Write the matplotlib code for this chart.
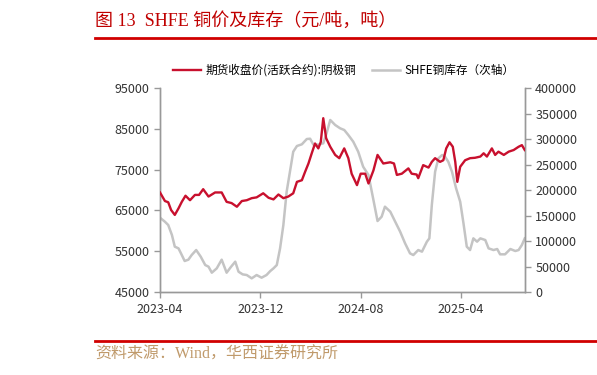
import matplotlib
matplotlib.use("Agg")
import matplotlib.pyplot as plt
import numpy as np
import pandas as pd

plt.rcParams['font.family'] = ['Noto Sans CJK SC', 'DejaVu Sans']

# days since 2023-04-01
price_day = [0, 12, 20, 27, 36, 45, 53, 62, 73, 85, 95, 105, 118, 134, 150, 162, 174,
             187, 199, 211, 223, 235, 251, 264, 276, 288, 300, 312, 324, 333, 345, 353,
             361, 369, 377, 385, 391, 397, 404, 414, 426, 436, 448, 458, 466, 479, 488,
             499, 507, 519, 529, 543, 560, 569, 576, 588, 604, 612, 624, 628, 640, 653,
             661, 669, 681, 689, 696, 704, 712, 718, 723, 730, 742, 754, 766, 779, 787,
             795, 807, 815, 823, 836, 848, 860, 872, 880, 887]
price = [69400, 67300, 67000, 65100, 63900, 65500, 67100, 68600, 67500, 68800, 68800,
         70200, 68400, 69400, 69400, 67100, 66800, 65900, 67300, 67500, 68000, 68200,
         69200, 68100, 67700, 68900, 68000, 68400, 69200, 72000, 72400, 74500, 76500,
         79000, 81400, 80200, 81800, 87600, 82700, 80600, 78600, 77800, 80200, 77800,
         74000, 71200, 74000, 74000, 71600, 74800, 78600, 76500, 76800, 76500, 73700,
         74000, 75300, 74000, 73800, 72900, 76100, 75500, 76900, 77800, 76900, 77300,
         80200, 81700, 80600, 76900, 72000, 75700, 77300, 77800, 77900, 78200, 79000,
         78200, 80200, 78600, 79400, 78600, 79400, 79800, 80600, 81000, 79800]

stock_day = [0, 12, 20, 29, 36, 45, 53, 60, 69, 77, 88, 99, 110, 118, 126, 138, 150,
             162, 173, 183, 191, 201, 211, 223, 235, 247, 259, 268, 276, 284, 292, 300,
             308, 316, 324, 333, 345, 357, 365, 373, 385, 397, 405, 414, 426, 438, 448,
             458, 470, 482, 494, 507, 519, 529, 539, 547, 560, 572, 584, 596, 608, 616,
             628, 637, 649, 655, 661, 669, 677, 686, 693, 701, 710, 720, 730, 738, 746,
             754, 762, 771, 779, 791, 799, 811, 820, 827, 839, 852, 864, 872, 880, 887]
stock = [145700, 137800, 131400, 111800, 88900, 85600, 72500, 60800, 63400, 72500,
         82300, 69300, 52900, 49700, 37900, 46400, 63400, 37900, 49700, 59500, 39800,
         34600, 33300, 26800, 33300, 28100, 33300, 41000, 46400, 52900, 85600, 131400,
         196700, 235900, 275100, 286300, 289600, 300000, 300600, 289000, 289000, 291600,
         311100, 337300, 327500, 321000, 317700, 307800, 294700, 275100, 245700, 229400,
         180400, 139200, 147700, 167300, 157500, 137800, 118300, 95400, 75800, 72500,
         82300, 79100, 98700, 105200, 170600, 235900, 262100, 268600, 265400, 255500,
         235900, 203300, 177100, 134600, 88900, 82300, 105200, 98700, 105200, 101900,
         85600, 82300, 84300, 73900, 73900, 84300, 80400, 82300, 92200, 105200]

tick_labels = ['2023-04', '2023-12', '2024-08', '2025-04']

start = pd.Timestamp('2023-04-01')
px = start + pd.to_timedelta(price_day, unit='D')
sx = start + pd.to_timedelta(stock_day, unit='D')

red = '#c8102e'
grey = '#c4c4c4'
axc = '#999999'

fig = plt.figure(figsize=(5.97, 3.75), dpi=100)
ax = fig.add_axes([0.268, 0.2213, 0.611, 0.544])
ax2 = ax.twinx()

l1, = ax.plot(px, price, color=red, lw=1.7, label='期货收盘价(活跃合约):阴极铜', zorder=3)
l2, = ax2.plot(sx, stock, color=grey, lw=1.8, label='SHFE铜库存（次轴）')
ax.set_zorder(ax2.get_zorder() + 1)
ax.patch.set_visible(False)

ax.set_ylim(45000, 95000)
ax.set_yticks(np.arange(45000, 95001, 10000))
ax2.set_ylim(0, 400000)
ax2.set_yticks(np.arange(0, 400001, 50000))
ax.set_xlim(start, start + pd.Timedelta(days=887))
ax.set_xticks([pd.Timestamp(t + '-01') for t in tick_labels])
ax.set_xticklabels(tick_labels)

for a in (ax, ax2):
    a.spines['top'].set_visible(False)
    for s in ('left', 'right', 'bottom'):
        a.spines[s].set_color(axc)
        a.spines[s].set_linewidth(1.0)
    a.tick_params(colors=axc, labelcolor='#333333', labelsize=9, length=4, width=1)
ax.tick_params(axis='x', pad=4)

fig.legend([l1, l2], [l1.get_label(), l2.get_label()], loc='center',
           bbox_to_anchor=(0.576, 0.813), ncol=2, frameon=False, fontsize=8.4,
           handlelength=2.4, columnspacing=1.3, handletextpad=0.4)

fig.text(0.159, 0.945, '图 13  SHFE 铜价及库存（元/吨，吨）', color='#c00000',
         fontsize=13, va='center', family=['Liberation Serif', 'Noto Sans CJK SC'])
fig.add_artist(plt.Line2D([0.159, 1.0], [0.9, 0.9], color='#d00000', lw=2))
fig.add_artist(plt.Line2D([0.159, 1.0], [0.091, 0.091], color='#d00000', lw=2))
fig.text(0.159, 0.053, '资料来源：Wind，华西证券研究所', color='#c09a6b', fontsize=11.5,
         va='center', family=['Liberation Serif', 'Noto Sans CJK SC'])

fig.savefig('out.png', dpi=100)
